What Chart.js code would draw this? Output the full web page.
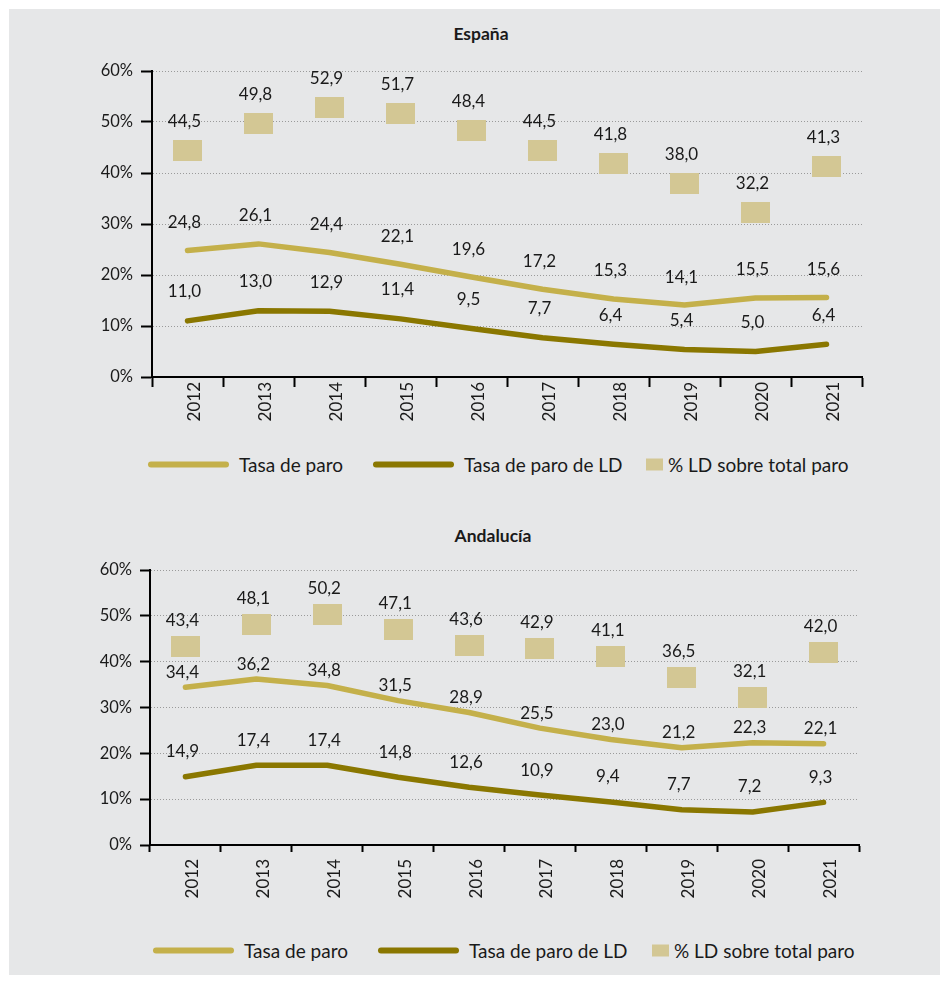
<!DOCTYPE html>
<html lang="es">
<head>
<meta charset="utf-8">
<title>Tasa de paro y paro de larga duración</title>
<script src="https://cdn.jsdelivr.net/npm/chart.js@4.4.1/dist/chart.umd.min.js"></script>
<style>
  html, body { margin: 0; padding: 0; background: #fff; }
  body { width: 943px; height: 981px; position: relative; overflow: hidden;
         font-family: Lato, "Open Sans", sans-serif; color: #1a1a1a; }
  #panel { position: absolute; left: 9px; top: 9px; width: 931px; height: 966px; background: #e6e7e8; }
  canvas { position: absolute; left: 0; }
  .title { position: absolute; font-weight: bold; font-size: 17.5px; white-space: nowrap;
           transform: translate(-50%, -50%); }
  .legend-item { position: absolute; display: flex; align-items: center; font-size: 19px;
                 white-space: nowrap; transform: translateY(-50%); }
  .sw-line { width: 81px; height: 6px; border-radius: 3px; margin-right: 10px; }
  .sw-box { width: 17px; height: 12px; margin-right: 5px; }
</style>
</head>
<body>
<div id="panel"></div>
<div class="title" style="left:481px; top:33px;">España</div>
<div class="title" style="left:493px; top:535px;">Andalucía</div>
<canvas id="chartEsp" width="943" height="450" style="top:0; width:943px; height:450px;"></canvas>
<canvas id="chartAnd" width="943" height="450" style="top:480px; width:943px; height:450px;"></canvas>
<div id="legendEsp"></div>
<div id="legendAnd"></div>

<script>
const years = ['2012', '2013', '2014', '2015', '2016', '2017', '2018', '2019', '2020', '2021'];

// España
const espParo   = [24.8, 26.1, 24.4, 22.1, 19.6, 17.2, 15.3, 14.1, 15.5, 15.6];
const espParoLD = [11.0, 13.0, 12.9, 11.4, 9.5, 7.7, 6.4, 5.4, 5.0, 6.4];
const espPctLD  = [44.5, 49.8, 52.9, 51.7, 48.4, 44.5, 41.8, 38.0, 32.2, 41.3];

// Andalucía
const andParo   = [34.4, 36.2, 34.8, 31.5, 28.9, 25.5, 23.0, 21.2, 22.3, 22.1];
const andParoLD = [14.9, 17.4, 17.4, 14.8, 12.6, 10.9, 9.4, 7.7, 7.2, 9.3];
const andPctLD  = [43.4, 48.1, 50.2, 47.1, 43.6, 42.9, 41.1, 36.5, 32.1, 42.0];

const yMax = 60;
const yStep = 10;

const COL_PARO = '#c4b04a';
const COL_LD = '#8a7700';
const COL_PCT = '#d3c794';
const TEXT = '#1a1a1a';
const FONT = 'Lato, "Open Sans", sans-serif';

const fmt = v => v.toFixed(1).replace('.', ',');

// filled rectangle used as the point marker of the % series
function rectMarker(w, h, color) {
  const c = document.createElement('canvas');
  c.width = w; c.height = h;
  const g = c.getContext('2d');
  g.fillStyle = color;
  g.fillRect(0, 0, w, h);
  return c;
}
const pctMarker = rectMarker(29, 21, COL_PCT);

// numbers written above each point
const valueLabels = {
  id: 'valueLabels',
  afterDatasetsDraw(chart) {
    const ctx = chart.ctx;
    ctx.save();
    ctx.font = '17px ' + FONT;
    ctx.fillStyle = TEXT;
    ctx.textAlign = 'center';
    ctx.textBaseline = 'middle';
    chart.data.datasets.forEach((ds, i) => {
      chart.getDatasetMeta(i).data.forEach((pt, j) => {
        ctx.fillText(fmt(ds.data[j]), pt.x - 3, pt.y - ds.labelLift);
      });
    });
    ctx.restore();
  }
};

function makeChart(id, paro, paroLD, pct, g) {
  return new Chart(document.getElementById(id), {
    type: 'line',
    data: {
      labels: years,
      datasets: [
        { label: 'Tasa de paro', data: paro, borderColor: COL_PARO, borderWidth: 5.5,
          borderCapStyle: 'round', borderJoinStyle: 'round', pointRadius: 0, tension: 0,
          labelLift: g.liftParo },
        { label: 'Tasa de paro de LD', data: paroLD, borderColor: COL_LD, borderWidth: 5.5,
          borderCapStyle: 'round', borderJoinStyle: 'round', pointRadius: 0, tension: 0,
          labelLift: g.liftLD },
        { label: '% LD sobre total paro', data: pct, showLine: false, pointStyle: pctMarker,
          pointRadius: 10, backgroundColor: COL_PCT, borderColor: COL_PCT,
          labelLift: g.liftPct }
      ]
    },
    options: {
      responsive: false,
      animation: false,
      events: [],
      layout: { padding: { top: g.top, right: g.right, left: 0, bottom: 0 } },
      plugins: { legend: { display: false }, tooltip: { enabled: false } },
      scales: {
        x: {
          offset: true,
          afterFit: s => { s.height = g.xHeight; },
          grid: { offset: true, drawOnChartArea: false, tickLength: g.xTick, tickColor: '#000', tickWidth: 2 },
          border: { color: '#000', width: 2 },
          ticks: { minRotation: 90, maxRotation: 90, autoSkip: false, padding: g.xPad,
                   labelOffset: 7, color: TEXT, font: { family: FONT, size: 17 } }
        },
        y: {
          min: 0, max: yMax,
          afterFit: s => { s.width = g.yWidth; },
          grid: { color: '#9a9a9a', lineWidth: 1, tickLength: g.yTick, tickColor: '#000', tickWidth: 2 },
          border: { color: '#000', width: 2, dash: [1, 2] },
          ticks: { stepSize: yStep, padding: 8, color: TEXT, font: { family: FONT, size: 16.5 },
                   callback: v => v + '%' }
        }
      }
    },
    plugins: [valueLabels]
  });
}

const esp = makeChart('chartEsp', espParo, espParoLD, espPctLD, {
  top: 71, right: 81, yWidth: 152, xHeight: 73, xTick: 10, xPad: -5, yTick: 11,
  liftParo: 28, liftLD: 29, liftPct: 29
});
const and = makeChart('chartAnd', andParo, andParoLD, andPctLD, {
  top: 90, right: 84, yWidth: 150, xHeight: 85, xTick: 7, xPad: 7, yTick: 10,
  liftParo: 15, liftLD: 25, liftPct: 26
});

// legend rows built from the chart datasets
function buildLegend(chart, holderId, top, lefts) {
  const holder = document.getElementById(holderId);
  chart.data.datasets.forEach((ds, i) => {
    const item = document.createElement('div');
    item.className = 'legend-item';
    item.style.left = lefts[i] + 'px';
    item.style.top = top + 'px';
    const sw = document.createElement('span');
    sw.className = ds.showLine === false ? 'sw-box' : 'sw-line';
    sw.style.background = ds.showLine === false ? COL_PCT : ds.borderColor;
    const txt = document.createElement('span');
    txt.textContent = ds.label;
    item.appendChild(sw);
    item.appendChild(txt);
    holder.appendChild(item);
  });
}
buildLegend(esp, 'legendEsp', 464, [148, 373, 646]);
buildLegend(and, 'legendAnd', 950, [153, 378, 652]);
</script>
</body>
</html>
